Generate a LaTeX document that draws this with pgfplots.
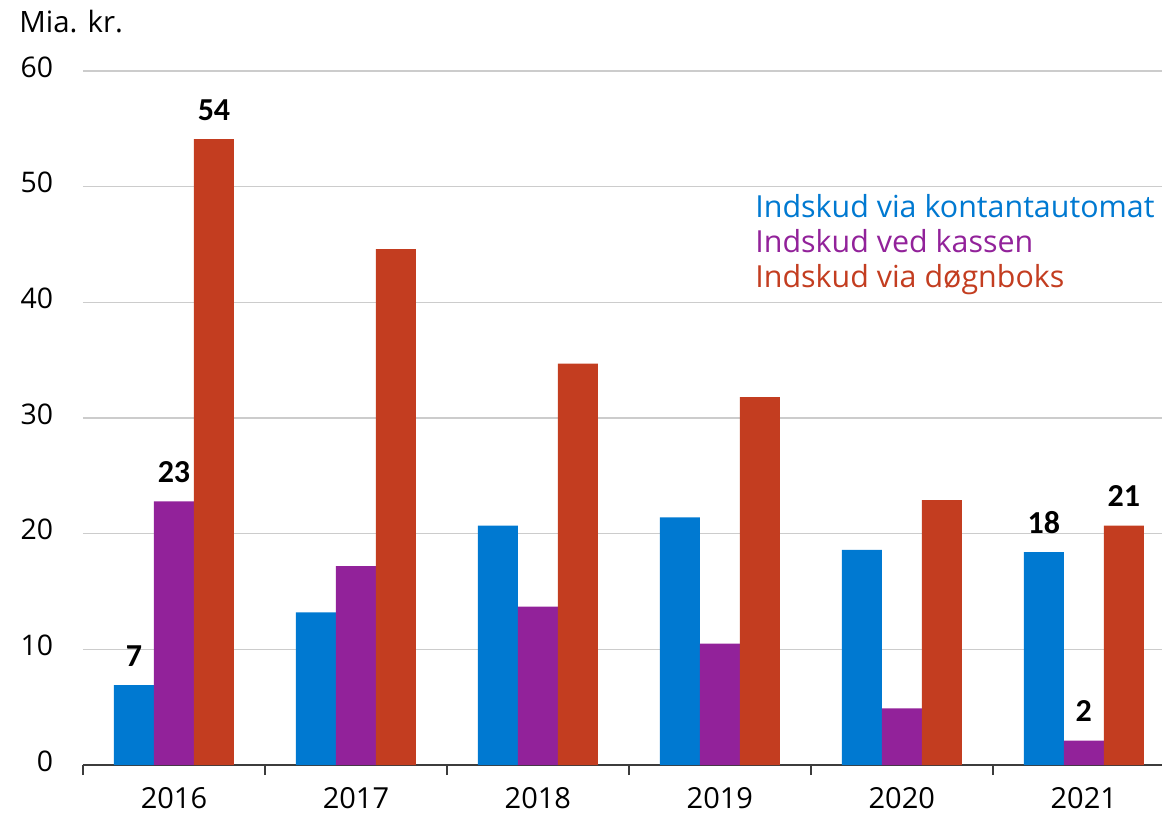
\documentclass[border=0pt]{standalone}
\usepackage{fontspec}
\setmainfont{Open Sans}
\newfontfamily\lblfont{Carlito}
\usepackage{pgfplots}
\pgfplotsset{compat=1.18}
\definecolor{cblue}{RGB}{0,121,209}
\definecolor{cpurple}{RGB}{146,34,154}
\definecolor{cred}{RGB}{195,61,32}
\definecolor{cgrid}{RGB}{204,204,204}
\definecolor{caxis}{RGB}{60,60,60}
\begin{document}
\begin{tikzpicture}
\useasboundingbox (-41.5pt,-25pt) rectangle (540pt,382.5pt);
\begin{axis}[
  at={(0,0)}, anchor=south west,
  scale only axis, width=539.5pt, height=347pt,
  ymin=0, ymax=60, ytick={0,10,...,60},
  xmin=-0.5, xmax=5.43,
  xtick={0,1,2,3,4,5},
  xticklabels={2016,2017,2018,2019,2020,2021},
  minor xtick={-0.5,0.5,1.5,2.5,3.5,4.5},
  axis x line*=bottom, axis y line*=left,
  x axis line style={-, color=caxis, line width=0.8pt},
  y axis line style={draw=none},
  ytick style={draw=none},
  major x tick style={draw=none},
  minor x tick style={color=caxis, line width=0.8pt},
  tick align=outside,
  minor tick length=5pt,
  ymajorgrids, grid style={color=cgrid, line width=0.6pt},
  /pgf/number format/assume math mode=true,
  xticklabel style={font=\fontsize{14.5}{14.5}\selectfont, anchor=base, inner sep=0pt, yshift=-17.5pt},
  yticklabel style={font=\fontsize{14.2}{14.2}\selectfont, anchor=east, inner sep=0pt, xshift=-10.5pt},
  typeset ticklabels with strut=false,
  ybar=0pt, bar width=20pt,
  point meta=explicit symbolic,
  nodes near coords,
  every node near coord/.append style={font=\lblfont\bfseries\fontsize{16}{16}\selectfont, anchor=base, inner sep=0pt, yshift=9.5pt, color=black},
  clip=false,
]
\addplot[fill=cblue, draw=none, bar shift=-20pt] coordinates {(0,6.9)[7] (1,13.2)[] (2,20.7)[] (3,21.4)[] (4,18.6)[] (5,18.4)[18]};
\addplot[fill=cpurple, draw=none, bar shift=0pt] coordinates {(0,22.8)[23] (1,17.2)[] (2,13.7)[] (3,10.5)[] (4,4.9)[] (5,2.1)[2]};
\addplot[fill=cred, draw=none, bar shift=20pt] coordinates {(0,54.1)[54] (1,44.6)[] (2,34.7)[] (3,31.8)[] (4,22.9)[] (5,20.7)[21]};
\end{axis}
\node[anchor=base west, inner sep=0pt, font=\fontsize{14.7}{14.7}\selectfont] at (-32pt,366pt) {Mia. kr.};
\node[anchor=base west, inner sep=0pt, font=\fontsize{15.2}{15.2}\selectfont, text=cblue] at (336pt,273.5pt) {Indskud via kontantautomat};
\node[anchor=base west, inner sep=0pt, font=\fontsize{15.2}{15.2}\selectfont, text=cpurple] at (336pt,256pt) {Indskud ved kassen};
\node[anchor=base west, inner sep=0pt, font=\fontsize{15.2}{15.2}\selectfont, text=cred] at (336pt,238.5pt) {Indskud via døgnboks};
\end{tikzpicture}
\end{document}
